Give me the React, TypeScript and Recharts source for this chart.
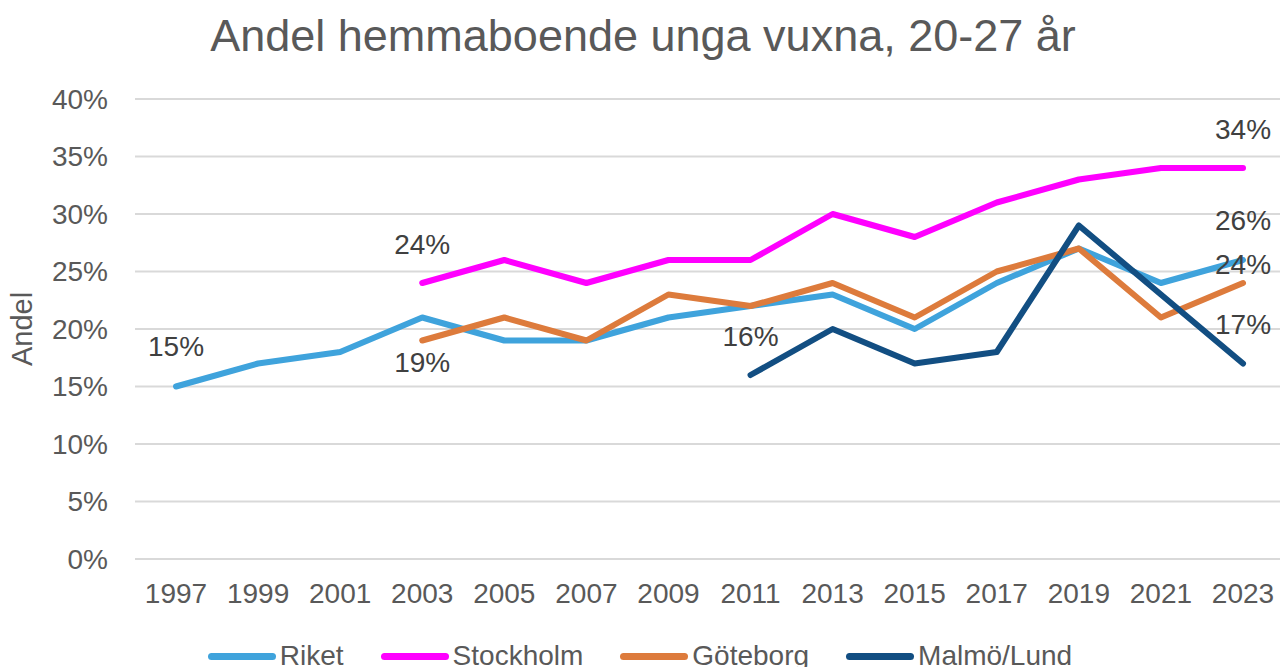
import { CartesianGrid, LabelList, Legend, Line, LineChart, XAxis, YAxis } from "recharts";

const years = ["1997", "1999", "2001", "2003", "2005", "2007", "2009", "2011", "2013", "2015", "2017", "2019", "2021", "2023"];

const riket = [15, 17, 18, 21, 19, 19, 21, 22, 23, 20, 24, 27, 24, 26];
const stockholm = [null, null, null, 24, 26, 24, 26, 26, 30, 28, 31, 33, 34, 34];
const goteborg = [null, null, null, 19, 21, 19, 23, 22, 24, 21, 25, 27, 21, 24];
const malmo = [null, null, null, null, null, null, null, 16, 20, 17, 18, 29, 23, 17];

const yTicks = [0, 5, 10, 15, 20, 25, 30, 35, 40];

const series = [
  { key: "riket", name: "Riket", color: "#3fa3dc", values: riket },
  { key: "stockholm", name: "Stockholm", color: "#ff00ff", values: stockholm },
  { key: "goteborg", name: "Göteborg", color: "#dd7b3c", values: goteborg },
  { key: "malmo", name: "Malmö/Lund", color: "#124e82", values: malmo },
];

// which points get a data label, and how far from the line (px, center of text)
const labelOffsets: Record<string, Record<number, number>> = {
  riket: { 0: -40, 13: -40 },
  stockholm: { 3: -39, 13: -39 },
  goteborg: { 3: 22, 13: -19 },
  malmo: { 7: -39, 13: -39 },
};

const data = years.map((year, i) => {
  const row: Record<string, string | number | null> = { year };
  series.forEach((s) => {
    row[s.key] = s.values[i];
  });
  return row;
});

const FONT = "'Liberation Sans', Arial, sans-serif";

function pointLabel(seriesKey: string) {
  return (props: any) => {
    const { x, y, value, index } = props;
    const off = labelOffsets[seriesKey][index];
    if (off === undefined || value == null) return null;
    return (
      <text
        x={x}
        y={y + off}
        textAnchor="middle"
        dominantBaseline="central"
        fontSize={28}
        fill="#404040"
        fontFamily={FONT}
      >
        {value}%
      </text>
    );
  };
}

function LegendContent() {
  return (
    <div style={{ display: "flex", justifyContent: "center", gap: 37, fontFamily: FONT, fontSize: 28, color: "#595959" }}>
      {series.map((s) => (
        <div key={s.key} style={{ display: "flex", alignItems: "center", gap: 4 }}>
          <span style={{ width: 68, height: 7, borderRadius: 4, background: s.color, display: "inline-block" }} />
          {s.name}
        </div>
      ))}
    </div>
  );
}

export default function App() {
  return (
    <div style={{ position: "absolute", left: 0, top: 0, width: 1280, height: 667, background: "#fff", overflow: "hidden" }}>
      <div
        style={{
          position: "absolute",
          top: 10,
          left: 0,
          width: 1286,
          textAlign: "center",
          fontFamily: FONT,
          fontSize: 45,
          color: "#595959",
          lineHeight: "52px",
        }}
      >
        Andel hemmaboende unga vuxna, 20-27 år
      </div>
      <LineChart width={1280} height={667} data={data} margin={{ top: 99, right: 0, bottom: 58, left: 0 }}>
        <CartesianGrid vertical={false} stroke="#d9d9d9" strokeWidth={2} />
        <XAxis
          dataKey="year"
          scale="point"
          padding={{ left: 41, right: 37 }}
          axisLine={false}
          tickLine={false}
          tickSize={0}
          tickMargin={24}
          height={50}
          interval={0}
          tick={{ fontSize: 28, fill: "#595959", fontFamily: FONT }}
        />
        <YAxis
          domain={[0, 40]}
          ticks={yTicks}
          width={135}
          axisLine={false}
          tickLine={false}
          tickSize={0}
          tickMargin={27}
          tickFormatter={(v) => `${v}%`}
          tick={{ fontSize: 28, fill: "#595959", fontFamily: FONT }}
          label={{
            value: "Andel",
            angle: -90,
            position: "insideLeft",
            offset: 22,
            textAnchor: "middle",
            fontSize: 29,
            fill: "#595959",
            fontFamily: FONT,
          }}
        />
        {series.map((s) => (
          <Line
            key={s.key}
            dataKey={s.key}
            name={s.name}
            stroke={s.color}
            strokeWidth={6}
            dot={false}
            activeDot={false}
            strokeLinecap="round"
            strokeLinejoin="round"
            isAnimationActive={false}
          >
            <LabelList dataKey={s.key} content={pointLabel(s.key)} />
          </Line>
        ))}
        <Legend
          verticalAlign="middle"
          align="center"
          content={LegendContent}
          wrapperStyle={{ top: 640, left: 0, width: 1280 }}
        />
      </LineChart>
    </div>
  );
}
